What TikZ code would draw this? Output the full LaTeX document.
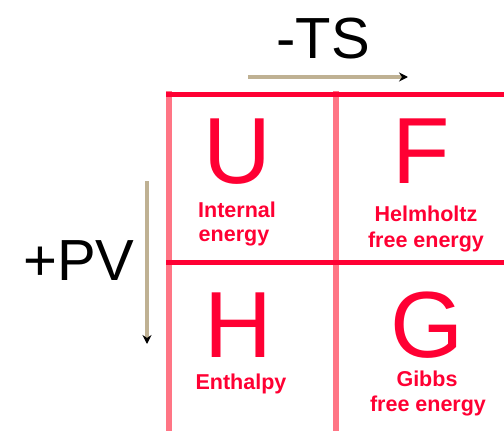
\documentclass[tikz,border=0pt]{standalone}
\usepackage{fontspec}
\setmainfont{Liberation Sans}
\usetikzlibrary{arrows.meta}
\definecolor{gridred}{HTML}{FF0033}
\definecolor{gridpink}{HTML}{FF7585}
\definecolor{txtred}{HTML}{FF0033}
\definecolor{tan}{HTML}{BFB193}
\tikzset{
  bigletter/.style={anchor=base, text=txtred, font=\fontsize{94}{94}\selectfont, inner sep=0pt},
  sublabel/.style={anchor=base, text=txtred, font=\bfseries\fontsize{21.5}{24}\selectfont, inner sep=0pt},
  term/.style={anchor=base, text=black, font=\fontsize{58}{58}\selectfont, inner sep=0pt},
  hline/.style={draw=gridred, line width=5pt},
  vline/.style={draw=gridpink, line width=5.5pt},
  axisarrow/.style={draw=tan, line width=3.5pt, -{Stealth[color=black, length=9pt, width=9pt]}}
}
\begin{document}
\begin{tikzpicture}[x=1pt, y=-1pt]
\useasboundingbox (0,0) rectangle (504,431);
% grid
\coordinate (vl1) at (169,91);  \coordinate (vl1b) at (169,431);
\coordinate (vl2) at (336,91);  \coordinate (vl2b) at (336,431);
\coordinate (hl1) at (166,94);  \coordinate (hl1b) at (504,94);
\coordinate (hl2) at (166,262); \coordinate (hl2b) at (504,262);
\draw[vline] (vl1) -- (vl1b);
\draw[vline] (vl2) -- (vl2b);
\draw[hline] (hl1) -- (hl1b);
\draw[hline] (hl2) -- (hl2b);
% letters
\node[bigletter] (U) at (237,183) {U};
\node[bigletter] (F) at (421,183) {F};
\node[bigletter] (H) at (238,357) {H};
\node[bigletter] (G) at (427,357) {G};
% sub labels
\node[sublabel] (u1) at (237,217) {Internal};
\node[sublabel] (u2) at (234,241) {energy};
\node[sublabel] (f1) at (426,221) {Helmholtz};
\node[sublabel] (f2) at (426,247) {free energy};
\node[sublabel] (h1) at (241,389) {Enthalpy};
\node[sublabel] (g1) at (427,386) {Gibbs};
\node[sublabel] (g2) at (428,411) {free energy};
% axis terms
\node[term] (TS) at (323,58) {-TS};
\node[term] (PV) at (79,280) {+PV};
\coordinate (ts0) at (248,77);
\coordinate (ts1) at (408,77);
\coordinate (pv0) at (147,181);
\coordinate (pv1) at (147,344);
\draw[axisarrow] (ts0) -- (ts1);
\draw[axisarrow] (pv0) -- (pv1);
\end{tikzpicture}
\end{document}
